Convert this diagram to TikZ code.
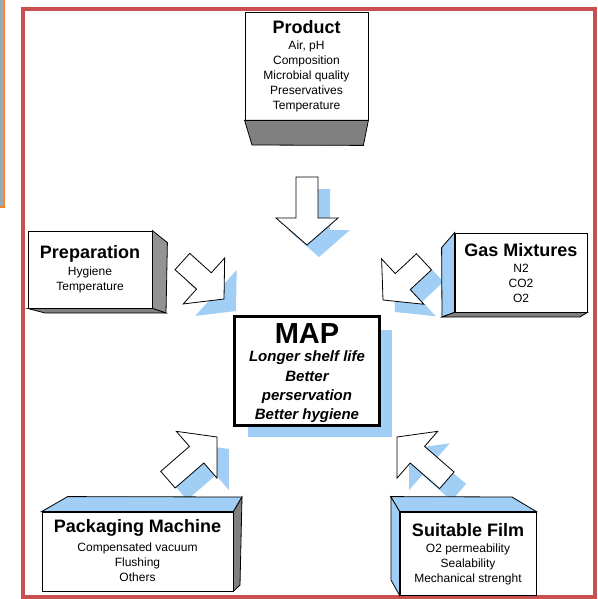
\documentclass[tikz,border=0pt]{standalone}
\usepackage{fontspec}
\setmainfont{Liberation Sans}
\usetikzlibrary{positioning}
\definecolor{frm}{HTML}{C8504E}
\definecolor{org}{HTML}{FF7F27}
\definecolor{strip}{HTML}{9AAAB4}
\definecolor{shd}{HTML}{A0CEF5}
\definecolor{grf}{HTML}{808080}
\tikzset{
  face/.style={draw=black, fill=white, line width=0.8pt, inner sep=0pt},
  sideface/.style={draw=black, line width=0.8pt},
  boxtitle/.style={font=\fontsize{18}{21}\selectfont\bfseries, inner sep=0pt},
  boxitems/.style={font=\fontsize{12}{15}\selectfont, align=center, inner sep=0pt},
  maptitle/.style={font=\fontsize{29}{32}\selectfont\bfseries, inner sep=0pt},
  mapitems/.style={font=\fontsize{15}{19.3}\selectfont\bfseries\itshape, align=center, inner sep=0pt},
  arrowbody/.style={draw=black, fill=white, line width=0.8pt, line join=miter},
}
% fat arrow with blue shadow: tip, angle, length
\newcommand{\fatarrow}[3]{%
  \fill[shd, shift={#1}, shift={(12,12)}, rotate=#2]
    (0,0) -- (-27,31) -- (-27,11) -- (-#3,11) -- (-#3,-11) -- (-27,-11) -- (-27,-31) -- cycle;
  \filldraw[arrowbody, shift={#1}, rotate=#2]
    (0,0) -- (-27,31) -- (-27,11) -- (-#3,11) -- (-#3,-11) -- (-27,-11) -- (-27,-31) -- cycle;
}
\begin{document}
\begin{tikzpicture}[x=1pt, y=-1pt]
  \useasboundingbox (0,0) rectangle (597,599);
  % cut-off neighbour and frame
  \filldraw[fill=strip, draw=org, line width=1.5pt] (-3,-3) rectangle (4.5,207);
  \draw[frm, line width=4pt] (23,9) rectangle (595,597);

  % arrows towards MAP
  \fatarrow{(307,245)}{-90}{68}
  \fatarrow{(224,299)}{-42}{56}
  \fatarrow{(383,300)}{-137}{56}
  \fatarrow{(217,437)}{41}{65}
  \fatarrow{(397,437)}{139}{66}

  % product
  \node[face, minimum width=123pt, minimum height=108pt] (prod) at (306.5,66) {};
  \filldraw[fill=grf, sideface] (prod.south west) -- (prod.south east) -- ++(-5,25) -- (252,145) -- cycle;
  \node[boxtitle] (prodT) at (306.5,27) {Product};
  \node[boxitems] (prodL) at (306.5,76) {Air, pH\\Composition\\Microbial quality\\Preservatives\\Temperature};

  % preparation
  \node[face, minimum width=124pt, minimum height=77pt] (prep) at (90,269.5) {};
  \filldraw[fill=grf!85, sideface] (prep.north east) -- ++(15,12) -- (166,313) -- (prep.south east) -- cycle;
  \filldraw[fill=grf, sideface] (prep.south west) -- (prep.south east) -- (166,313) -- (45,313) -- cycle;
  \node[boxtitle] (prepT) at (90,254) {Preparation};
  \node[boxitems] (prepL) at (90,280) {Hygiene\\Temperature};

  % gas mixtures
  \node[face, minimum width=132pt, minimum height=79pt] (gas) at (521,272.5) {};
  \filldraw[fill=shd, sideface] (gas.north west) -- ++(-13,15) -- (442,317) -- (gas.south west) -- cycle;
  \filldraw[fill=grf, sideface] (gas.south west) -- (442,317) -- (580,317) -- (gas.south east) -- cycle;
  \node[boxtitle] (gasT) at (521,250) {Gas Mixtures};
  \node[boxitems] (gasL) at (521,283) {N2\\CO2\\O2};

  % packaging machine
  \node[face, minimum width=191pt, minimum height=79pt] (pack) at (137.5,551.5) {};
  \filldraw[fill=shd, sideface] (pack.north west) -- ++(26,-15) -- (242,497) -- (pack.north east) -- cycle;
  \filldraw[fill=grf, sideface] (pack.north east) -- (242,497) -- (240,585) -- (pack.south east) -- cycle;
  \node[boxtitle] (packT) at (137.5,528) {Packaging Machine};
  \node[boxitems] (packL) at (137.5,562) {Compensated vacuum\\Flushing\\Others};

  % suitable film
  \node[face, minimum width=136pt, minimum height=83pt] (film) at (468,553.5) {};
  \filldraw[fill=shd, sideface] (film.north west) -- ++(-9,-15) -- (512,497) -- (film.north east) -- cycle;
  \filldraw[fill=shd, sideface] (film.north west) -- (391,497) -- (391,580) -- (film.south west) -- cycle;
  \node[boxtitle] (filmT) at (468,530) {Suitable Film};
  \node[boxitems] (filmL) at (468,564) {O2 permeability\\Sealability\\Mechanical strenght};

  % MAP
  \fill[shd] (248,330) rectangle (392,437);
  \node[draw=black, fill=white, line width=3pt, minimum width=145pt, minimum height=109pt, inner sep=0pt] (map) at (307,371) {};
  \node[maptitle] (mapT) at (307,334) {MAP};
  \node[mapitems] (mapL) at (307,387) {Longer shelf life\\Better\\perservation\\Better hygiene};
\end{tikzpicture}
\end{document}
